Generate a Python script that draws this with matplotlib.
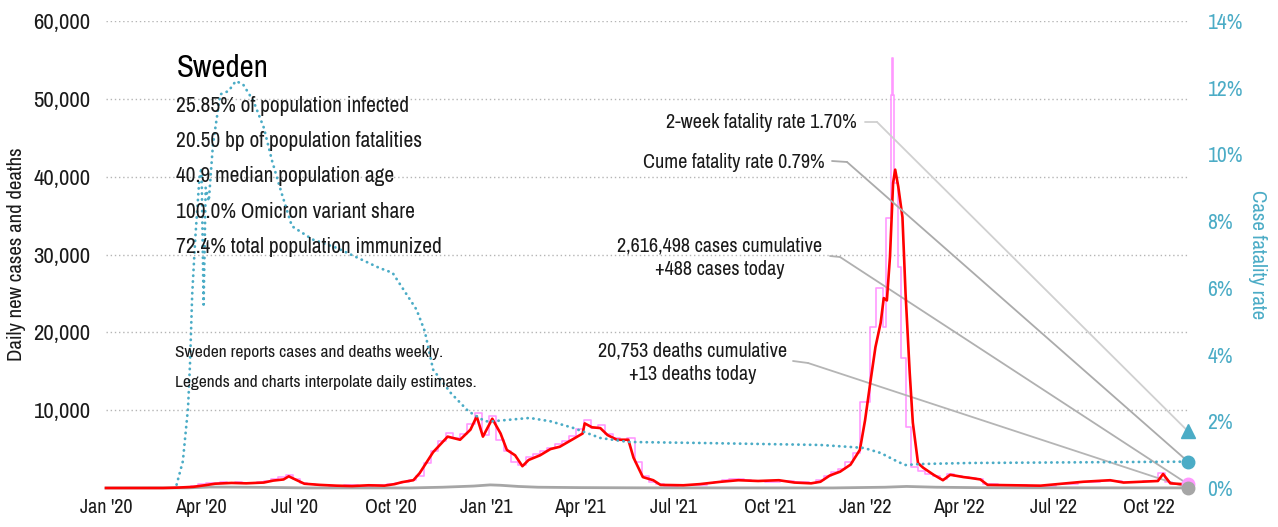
import matplotlib
matplotlib.use("Agg")
import matplotlib.pyplot as plt
import matplotlib.dates as mdates
from matplotlib.ticker import FuncFormatter
import pandas as pd

plt.rcParams['font.family'] = ['Archivo Narrow', 'DejaVu Sans']

# 7-day average of new cases
red_dates = ['2020-01-01', '2020-02-25', '2020-03-10', '2020-03-25', '2020-04-05', '2020-04-15',
             '2020-05-01', '2020-05-15', '2020-06-01', '2020-06-10', '2020-06-20', '2020-06-25',
             '2020-07-02', '2020-07-10', '2020-07-25', '2020-08-10', '2020-08-25', '2020-09-10',
             '2020-09-25', '2020-10-05', '2020-10-12', '2020-10-23', '2020-10-29', '2020-11-11',
             '2020-11-18', '2020-11-25', '2020-12-01', '2020-12-07', '2020-12-17', '2020-12-23',
             '2020-12-29', '2021-01-07', '2021-01-15', '2021-01-21', '2021-01-29', '2021-02-05',
             '2021-02-11', '2021-02-22', '2021-03-04', '2021-03-13', '2021-03-26', '2021-04-04',
             '2021-04-06', '2021-04-13', '2021-04-21', '2021-04-28', '2021-05-07', '2021-05-18',
             '2021-05-23', '2021-06-01', '2021-06-11', '2021-06-18', '2021-07-10', '2021-07-26',
             '2021-08-15', '2021-09-01', '2021-09-20', '2021-10-10', '2021-10-25', '2021-11-10',
             '2021-11-19', '2021-11-28', '2021-12-08', '2021-12-18', '2021-12-27', '2022-01-01',
             '2022-01-06', '2022-01-11', '2022-01-16', '2022-01-19', '2022-01-22', '2022-01-25',
             '2022-01-28', '2022-01-30', '2022-02-02', '2022-02-06', '2022-02-09', '2022-02-13',
             '2022-02-16', '2022-02-21', '2022-02-26', '2022-03-08', '2022-03-17', '2022-03-24',
             '2022-04-06', '2022-04-12', '2022-04-22', '2022-04-29', '2022-06-19', '2022-07-30',
             '2022-08-25', '2022-09-07', '2022-10-10', '2022-10-15', '2022-10-22', '2022-11-08']
red_vals = [0, 0, 50, 150, 350, 550,
            650, 600, 700, 950, 1100, 1500,
            1050, 550, 400, 300, 250, 350,
            300, 500, 750, 1000, 1900, 4600,
            5600, 6600, 6400, 6200, 7500, 9200,
            6600, 8900, 7000, 4900, 4200, 2800,
            3600, 4200, 5000, 5300, 6300, 7000,
            8300, 7800, 7700, 6800, 6200, 6200,
            3900, 1400, 1000, 400, 350, 500,
            800, 1000, 900, 1000, 700, 600,
            800, 1600, 2100, 3000, 4900, 8700,
            13500, 18100, 21200, 24400, 24100, 29700,
            39200, 40900, 38700, 34800, 25000, 14800,
            8400, 3200, 2600, 1700, 1000, 1700,
            1400, 1300, 1100, 400, 300, 800,
            1000, 700, 900, 1800, 600, 450]

# reported daily cases (weekly reporting, drawn as steps)
pink_dates = ['2020-01-01', '2020-03-02', '2020-03-09', '2020-03-16', '2020-03-23', '2020-03-30',
              '2020-04-06', '2020-04-13', '2020-04-20', '2020-04-27', '2020-05-04', '2020-05-11',
              '2020-05-18', '2020-05-25', '2020-06-01', '2020-06-08', '2020-06-15', '2020-06-22',
              '2020-06-29', '2020-07-06', '2020-07-13', '2020-07-20', '2020-08-03', '2020-08-17',
              '2020-08-31', '2020-09-14', '2020-09-28', '2020-10-05', '2020-10-12', '2020-10-19',
              '2020-10-26', '2020-11-02', '2020-11-09', '2020-11-16', '2020-11-23', '2020-11-30',
              '2020-12-07', '2020-12-14', '2020-12-21', '2020-12-28', '2021-01-04', '2021-01-11',
              '2021-01-18', '2021-01-25', '2021-02-01', '2021-02-08', '2021-02-15', '2021-02-22',
              '2021-03-01', '2021-03-08', '2021-03-15', '2021-03-22', '2021-03-29', '2021-04-05',
              '2021-04-12', '2021-04-19', '2021-04-26', '2021-05-03', '2021-05-10', '2021-05-17',
              '2021-05-24', '2021-05-31', '2021-06-07', '2021-06-14', '2021-06-21', '2021-07-05',
              '2021-07-19', '2021-08-02', '2021-08-09', '2021-08-16', '2021-08-23', '2021-08-30',
              '2021-09-06', '2021-09-13', '2021-09-27', '2021-10-11', '2021-10-25', '2021-11-08',
              '2021-11-15', '2021-11-22', '2021-11-29', '2021-12-06', '2021-12-13', '2021-12-20',
              '2021-12-27', '2022-01-06', '2022-01-12', '2022-01-18', '2022-01-21', '2022-01-26',
              '2022-01-27', '2022-01-28', '2022-01-29', '2022-02-02', '2022-02-05', '2022-02-09',
              '2022-02-14', '2022-02-21', '2022-02-28', '2022-03-07', '2022-03-14', '2022-03-21',
              '2022-03-28', '2022-04-04', '2022-04-11', '2022-04-18', '2022-04-25', '2022-05-09',
              '2022-06-06', '2022-07-04', '2022-07-25', '2022-08-15', '2022-09-05', '2022-09-26',
              '2022-10-10', '2022-10-17', '2022-10-24', '2022-11-08']
pink_vals = [0, 20, 60, 150, 300, 450,
             600, 700, 750, 650, 750, 650,
             700, 800, 950, 1200, 1350, 1700,
             1100, 600, 450, 350, 300, 350,
             250, 400, 500, 600, 800, 1050,
             1500, 3200, 4800, 6000, 7100, 6400,
             7000, 8200, 9600, 6800, 9200, 6200,
             4800, 3300, 2900, 4000, 4400, 4700,
             5100, 5600, 6000, 6700, 7600, 8800,
             7700, 8100, 6900, 6400, 6200, 6400,
             3300, 1500, 800, 450, 300, 350,
             400, 600, 800, 1000, 1200, 1100,
             1000, 900, 800, 900, 800, 700,
             1000, 1500, 2000, 2500, 3300, 4500,
             11000, 20700, 25700, 20700, 34700, 50500,
             55200, 50500, 39200, 28400, 16700, 7800,
             2700, 2200, 1800, 1500, 1200, 1800,
             1500, 1400, 1300, 1100, 500, 350,
             300, 450, 750, 950, 750, 850,
             1900, 800, 500, 488]

# daily deaths
death_dates = ['2020-01-01', '2020-03-20', '2020-04-10', '2020-05-10', '2020-06-15', '2020-07-15',
               '2020-10-20', '2020-11-20', '2020-12-20', '2021-01-05', '2021-01-15', '2021-02-01',
               '2021-02-20', '2021-04-01', '2021-06-01', '2021-12-01', '2022-01-20', '2022-02-10',
               '2022-03-10', '2022-05-01', '2022-11-08']
death_vals = [0, 20, 120, 100, 60, 10,
              10, 100, 250, 400, 350, 200,
              100, 50, 20, 10, 100, 200,
              100, 30, 13]

# cumulative case fatality rate, %
cfr_dates = ['2020-03-09', '2020-03-15', '2020-03-20', '2020-03-22', '2020-03-24', '2020-03-27',
             '2020-03-31', '2020-04-02', '2020-04-04', '2020-04-06', '2020-04-09', '2020-04-13',
             '2020-04-20', '2020-04-28', '2020-05-05', '2020-05-12', '2020-05-22', '2020-06-01',
             '2020-06-09', '2020-06-18', '2020-06-28', '2020-07-18', '2020-08-10', '2020-09-20',
             '2020-10-03', '2020-10-26', '2020-11-03', '2020-11-11', '2020-11-28', '2020-12-15',
             '2020-12-31', '2021-01-07', '2021-02-01', '2021-02-12', '2021-03-04', '2021-03-26',
             '2021-04-21', '2021-05-18', '2021-07-26', '2021-11-19', '2021-12-18', '2021-12-31',
             '2022-01-16', '2022-02-02', '2022-02-09', '2022-02-24', '2022-04-12', '2022-11-08']
cfr_vals = [0.1, 0.8, 2.4, 3.8, 5.8, 7.5,
            9.3, 9.6, 5.5, 9.0, 8.6, 10.3,
            11.8, 11.9, 12.2, 12.1, 11.6, 10.8,
            9.8, 8.85, 7.85, 7.45, 7.2, 6.6,
            6.45, 5.35, 4.7, 3.55, 2.85, 2.3,
            2.0, 2.0, 2.07, 2.1, 2.0, 1.8,
            1.5, 1.38, 1.35, 1.29, 1.23, 1.2,
            1.05, 0.78, 0.69, 0.72, 0.75, 0.79]

last_day = '2022-11-08'
cases_today = 488
deaths_today = 13
cume_cfr = 0.79
two_week_cfr = 1.70

stats = ["25.85% of population infected",
         "20.50 bp of population fatalities",
         "40.9 median population age",
         "100.0% Omicron variant share",
         "72.4% total population immunized"]
notes = ["Sweden reports cases and deaths weekly.",
         "Legends and charts interpolate daily estimates."]

TEAL = '#4bacc6'
PINK = '#ff99ff'
RED = '#ff0000'
GRAY = '#a6a6a6'
INK = '#1a1a1a'

W, H = 1278, 527
fig = plt.figure(figsize=(W / 100, H / 100), dpi=100)
ax = fig.add_axes([106 / W, 39 / H, (1188 - 106) / W, (488 - 21) / H])
ax2 = ax.twinx()

to_dt = pd.to_datetime
end = to_dt(last_day)

# lines sit on the zero line, so let them draw past the axes edge
ax.plot(to_dt(pink_dates), pink_vals, color=PINK, lw=1.2, drawstyle='steps-post', zorder=2,
        clip_on=False)
ax.plot(to_dt(death_dates), death_vals, color=GRAY, lw=2.0, zorder=3, clip_on=False)
ax.plot(to_dt(red_dates), red_vals, color=RED, lw=1.9, zorder=4, clip_on=False)
ax2.plot(to_dt(cfr_dates), cfr_vals, color=TEAL, lw=2.0, linestyle=(0, (0.1, 2.0)),
         dash_capstyle='round', zorder=3)

# end-of-series markers
ax.plot([end], [cases_today], 'o', color=PINK, ms=9, clip_on=False, zorder=6)
ax.plot([end], [deaths_today], 'o', color=GRAY, ms=9, clip_on=False, zorder=7)
ax2.plot([end], [cume_cfr], 'o', color=TEAL, ms=9, clip_on=False, zorder=6)
ax2.plot([end], [two_week_cfr], '^', color=TEAL, ms=10, clip_on=False, zorder=6)

ax.set_xlim(to_dt('2020-01-01'), end)
ax.set_ylim(0, 60000)
ax2.set_ylim(0, 14)

ax.set_yticks(range(10000, 60001, 10000))
ax.yaxis.set_major_formatter(FuncFormatter(lambda v, p: f"{int(v):,}"))
ax.grid(axis='y', color='#b5b5b5', lw=1.0, linestyle=(0, (1, 2)))
ax.set_axisbelow(True)
ax.xaxis.set_major_locator(mdates.MonthLocator(bymonth=[1, 4, 7, 10]))
ax.xaxis.set_major_formatter(mdates.DateFormatter("%b '%y"))
ax.tick_params(axis='x', length=0, pad=7, labelsize=14.5, labelcolor=INK)
ax.tick_params(axis='y', length=0, pad=11, labelsize=16.4, labelcolor=INK)

ax2.set_yticks(range(0, 15, 2))
ax2.yaxis.set_major_formatter(FuncFormatter(lambda v, p: f"{int(v)}%"))
ax2.tick_params(axis='y', length=0, pad=14, labelsize=15.5, labelcolor=TEAL)

for a in (ax, ax2):
    for s in a.spines.values():
        s.set_visible(False)

ax.set_ylabel("Daily new cases and deaths", fontsize=15, color=INK, va='center')
ax2.set_ylabel("Case fatality rate", fontsize=15, color=TEAL, rotation=270, va='center')
ax.yaxis.set_label_coords(-0.0823, 0.5)
ax2.yaxis.set_label_coords(1.0638, 0.5)

# headline block
fig.text(177 / W, 1 - 68 / H, "Sweden", fontsize=22.3, color='black', va='center', ha='left')
for i, s in enumerate(stats):
    fig.text(176 / W, 1 - (106 + i * 35.2) / H, s, fontsize=15.4, color=INK, va='center', ha='left')
for i, s in enumerate(notes):
    fig.text(175 / W, 1 - (353 + i * 30) / H, s, fontsize=12.5, color=INK, va='center', ha='left')

# callouts with leader lines to the end markers
def callout(text, tx, ty, ha, start, corner, target_ax, value, color):
    fig.text(tx / W, 1 - ty / H, text, fontsize=14.5, color=INK, ha=ha, va='center',
             multialignment='center', linespacing=1.3)
    p0 = (start[0], H - start[1])
    p1 = (corner[0], H - corner[1])
    line = dict(arrowstyle='-', color=color, lw=1.3, shrinkA=0, shrinkB=0)
    ax2.annotate('', xy=p1, xycoords='figure pixels', xytext=p0, textcoords='figure pixels',
                 arrowprops=line, annotation_clip=False)
    target_ax.annotate('', xy=(end, value), xycoords='data', xytext=p1,
                       textcoords='figure pixels', arrowprops=line, annotation_clip=False)

callout("2-week fatality rate 1.70%", 857, 123, 'right', (865, 122), (877, 122),
        ax2, two_week_cfr, '#d0d0d0')
callout("Cume fatality rate 0.79%", 825, 162, 'right', (832, 161), (847, 162),
        ax2, cume_cfr, '#ababab')
callout("2,616,498 cases cumulative\n+488 cases today", 720, 258, 'center', (830, 256), (840, 257),
        ax, cases_today, '#b0b0b0')
callout("20,753 deaths cumulative\n+13 deaths today", 693, 363, 'center', (793, 361), (808, 363),
        ax, deaths_today, '#b5b5b5')

fig.savefig("out.png", dpi=100)
